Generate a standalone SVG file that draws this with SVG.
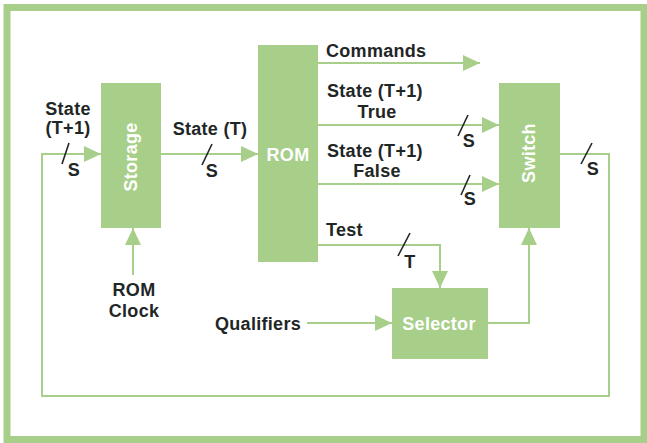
<svg xmlns="http://www.w3.org/2000/svg" width="647" height="443" viewBox="0 0 647 443">
<style>
.box{fill:#a8cf8a}
.wire{fill:none;stroke:#a8cf8a;stroke-width:2}
.lbl{font-family:"Liberation Sans",Arial,Helvetica,sans-serif;font-weight:bold;font-size:18px;fill:#1f2626;letter-spacing:0.3px}
.in{font-family:"Liberation Sans",Arial,Helvetica,sans-serif;font-weight:bold;font-size:18px;fill:#ffffff;letter-spacing:0.3px}
.sl{stroke:#1f2626;stroke-width:1.6}
</style>
<defs>
<marker id="ah" markerUnits="userSpaceOnUse" markerWidth="18" markerHeight="16" refX="17" refY="8" orient="auto">
<path d="M0,0 L17,8 L0,16 z" fill="#a8cf8a"/>
</marker>
</defs>
<rect x="0" y="0" width="647" height="443" fill="#ffffff"/>
<rect x="7" y="7.5" width="637" height="432" fill="none" stroke="#a8cf8a" stroke-width="7"/>

<g id="connectors">
<polyline class="wire" points="560,154 609,154 609,396 42,396 42,154 101,154" marker-end="url(#ah)"/>
<line class="wire" x1="161" y1="154" x2="258" y2="154" marker-end="url(#ah)"/>
<line class="wire" x1="318" y1="63" x2="480" y2="63" marker-end="url(#ah)"/>
<line class="wire" x1="318" y1="125" x2="499" y2="125" marker-end="url(#ah)"/>
<line class="wire" x1="318" y1="184" x2="499" y2="184" marker-end="url(#ah)"/>
<polyline class="wire" points="318,245 440,245 440,288" marker-end="url(#ah)"/>
<line class="wire" x1="307" y1="323" x2="392" y2="323" marker-end="url(#ah)"/>
<polyline class="wire" points="488,323 529,323 529,228" marker-end="url(#ah)"/>
<line class="wire" x1="133" y1="275" x2="133" y2="228" marker-end="url(#ah)"/>
<line class="sl" x1="69" y1="143" x2="62" y2="164"/>
<line class="sl" x1="212" y1="144" x2="202" y2="165"/>
<line class="sl" x1="468" y1="115" x2="458" y2="136"/>
<line class="sl" x1="470" y1="175" x2="461" y2="195"/>
<line class="sl" x1="592" y1="143" x2="581" y2="164"/>
<line class="sl" x1="410" y1="233" x2="398" y2="256"/>
<text class="lbl" x="68" y="115" text-anchor="middle">State</text>
<text class="lbl" x="68" y="134" text-anchor="middle">(T+1)</text>
<text class="lbl" x="74" y="176" text-anchor="middle">S</text>
<text class="lbl" x="210" y="135" text-anchor="middle">State (T)</text>
<text class="lbl" x="212" y="177" text-anchor="middle">S</text>
<text class="lbl" x="326" y="57">Commands</text>
<text class="lbl" x="327" y="97">State (T+1)</text>
<text class="lbl" x="377" y="118" text-anchor="middle">True</text>
<text class="lbl" x="469" y="147" text-anchor="middle">S</text>
<text class="lbl" x="327" y="157">State (T+1)</text>
<text class="lbl" x="377" y="177" text-anchor="middle">False</text>
<text class="lbl" x="470" y="205" text-anchor="middle">S</text>
<text class="lbl" x="593" y="175" text-anchor="middle">S</text>
<text class="lbl" x="326" y="236">Test</text>
<text class="lbl" x="410" y="268" text-anchor="middle">T</text>
<text class="lbl" x="134" y="296" text-anchor="middle">ROM</text>
<text class="lbl" x="134" y="317" text-anchor="middle">Clock</text>
<text class="lbl" x="301" y="330" text-anchor="end">Qualifiers</text>
</g>

<g id="storage">
<rect class="box" x="101" y="83" width="60" height="145"/>
<text class="in" transform="translate(137,157) rotate(-90)" text-anchor="middle">Storage</text>
</g>
<g id="rom">
<rect class="box" x="258" y="45" width="60" height="217"/>
<text class="in" x="288" y="161" text-anchor="middle">ROM</text>
</g>
<g id="switch">
<rect class="box" x="499" y="83" width="61" height="145"/>
<text class="in" transform="translate(535,153) rotate(-90)" text-anchor="middle">Switch</text>
</g>
<g id="selector">
<rect class="box" x="392" y="288" width="96" height="71"/>
<text class="in" x="439" y="330" text-anchor="middle">Selector</text>
</g>
</svg>
